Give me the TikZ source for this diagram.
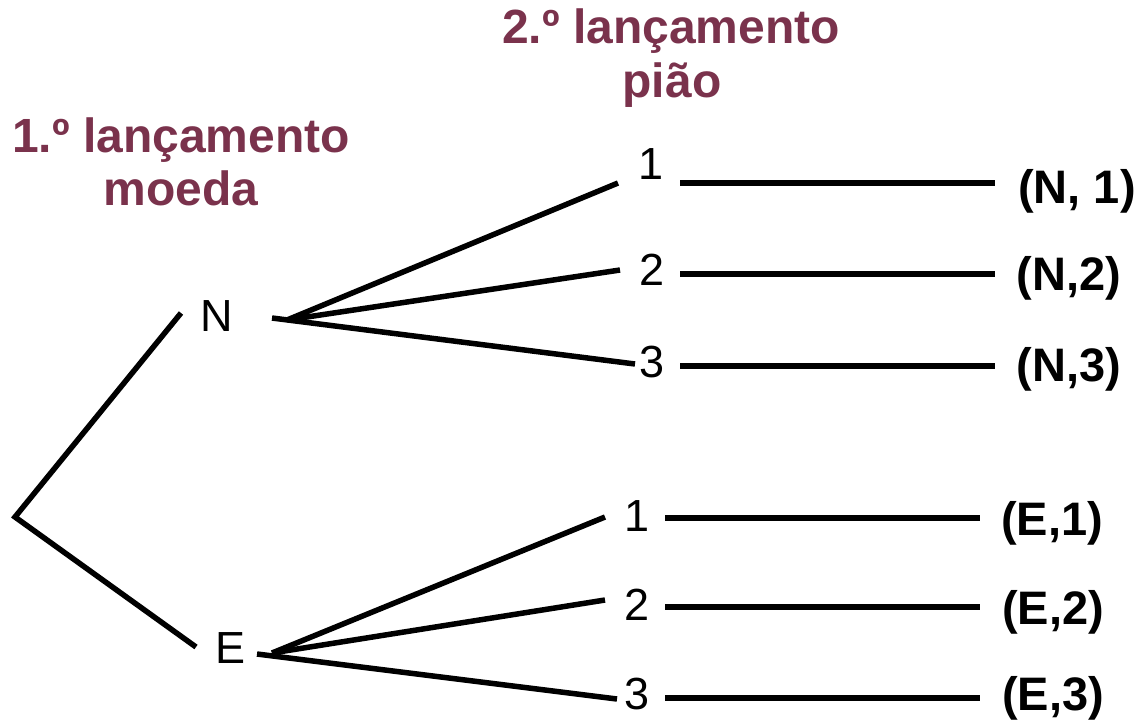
\documentclass[tikz,border=0pt]{standalone}
\usepackage{fontspec}
\setmainfont{Liberation Sans}
\definecolor{titlered}{RGB}{122,50,76}
\begin{document}
\begin{tikzpicture}[x=1pt,y=-1pt,
  branch/.style={line width=5.5pt,black},
  lbl/.style={anchor=base,inner sep=0pt,font=\fontsize{45}{52}\selectfont},
  outcome/.style={anchor=base,inner sep=0pt,font=\fontsize{47}{54}\selectfont\bfseries},
  heading/.style={anchor=base,inner sep=0pt,text=titlered,font=\fontsize{48}{55}\selectfont\bfseries}]
\useasboundingbox (0,0) rectangle (1141,721);

% column headings
\node[heading] (h1a) at (181,152) {1.º lançamento};
\node[heading] (h1b) at (181,205) {moeda};
\node[heading] (h2a) at (671,43) {2.º lançamento};
\node[heading] (h2b) at (672,97) {pião};

% first toss
\node[lbl] (N) at (217,331) {N};
\node[lbl] (E) at (231,663) {E};
\coordinate (root) at (15,517);
\coordinate (toN) at (181,313);
\coordinate (toE) at (196,647);
\draw[branch] (toN) -- (root) -- (toE);

% second toss after N
\node[lbl] (n1) at (651,179) {1};
\node[lbl] (n2) at (652,285) {2};
\node[lbl] (n3) at (652,377) {3};
\coordinate (nfan) at (287,320);
\coordinate (nstub) at (272,318);
\coordinate (n1in) at (618,183);
\coordinate (n2in) at (620,270);
\coordinate (n3in) at (635,364);
\draw[branch] (nfan) -- (n1in);
\draw[branch] (nfan) -- (n2in);
\draw[branch] (nstub) -- (n3in);

% second toss after E
\node[lbl] (e1) at (637,531) {1};
\node[lbl] (e2) at (637,620) {2};
\node[lbl] (e3) at (637,709) {3};
\coordinate (efan) at (272,653);
\coordinate (estub) at (257,654);
\coordinate (e1in) at (605,517);
\coordinate (e2in) at (605,600);
\coordinate (e3in) at (617,699);
\draw[branch] (efan) -- (e1in);
\draw[branch] (efan) -- (e2in);
\draw[branch] (estub) -- (e3in);

% outcomes
\node[outcome] (oN1) at (1077,203) {(N, 1)};
\node[outcome] (oN2) at (1069,290) {(N,2)};
\node[outcome] (oN3) at (1069,381) {(N,3)};
\node[outcome] (oE1) at (1052,535) {(E,1)};
\node[outcome] (oE2) at (1053,624) {(E,2)};
\node[outcome] (oE3) at (1053,710) {(E,3)};

\coordinate (n1a) at (680,183); \coordinate (n1b) at (995,183);
\coordinate (n2a) at (680,274); \coordinate (n2b) at (995,274);
\coordinate (n3a) at (680,366); \coordinate (n3b) at (995,366);
\coordinate (e1a) at (665,518); \coordinate (e1b) at (980,518);
\coordinate (e2a) at (665,607); \coordinate (e2b) at (980,607);
\coordinate (e3a) at (665,698); \coordinate (e3b) at (980,698);
\draw[branch] (n1a) -- (n1b);
\draw[branch] (n2a) -- (n2b);
\draw[branch] (n3a) -- (n3b);
\draw[branch] (e1a) -- (e1b);
\draw[branch] (e2a) -- (e2b);
\draw[branch] (e3a) -- (e3b);
\end{tikzpicture}
\end{document}
